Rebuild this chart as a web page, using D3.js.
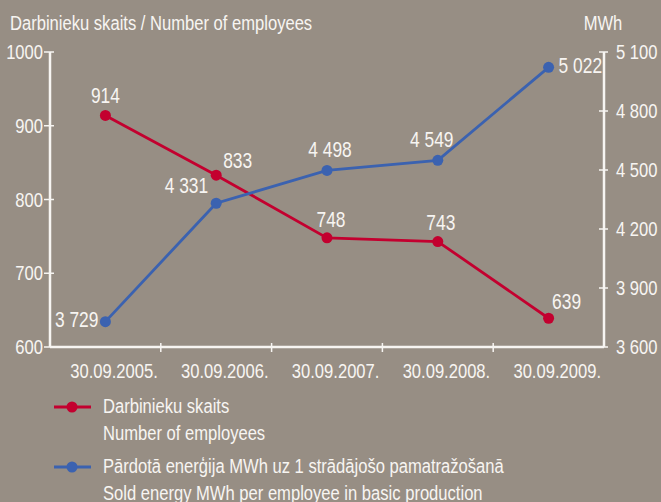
<!DOCTYPE html>
<html>
<head>
<meta charset="utf-8">
<script src="https://cdn.jsdelivr.net/npm/d3@7/dist/d3.min.js"></script>
<style>
  html, body { margin: 0; padding: 0; background: #978e84; }
  svg { display: block; }
  text { font-family: "Liberation Sans", Arial, sans-serif; fill: #f7f5f2; }
</style>
</head>
<body>
<svg id="chart" width="661" height="502"></svg>
<script>
// ---- data ----
const categories = ["30.09.2005.", "30.09.2006.", "30.09.2007.", "30.09.2008.", "30.09.2009."];
const employees = [914, 833, 748, 743, 639];
const energyPerEmployee = [3729, 4331, 4498, 4549, 5022];
const leftTicks = [600, 700, 800, 900, 1000];
const rightTicks = [3600, 3900, 4200, 4500, 4800, 5100];
const leftTitle = "Darbinieku skaits / Number of employees";
const rightTitle = "MWh";
const legendItems = [
  ["Darbinieku skaits", "Number of employees"],
  ["Pārdotā enerģija MWh uz 1 strādājošo pamatražošanā", "Sold energy MWh per employee in basic production"]
];

// label offsets (style only): [dx, dy, anchor]
const empLabelPos = [[0, -12, "middle"], [7, -7, "start"], [4, -11, "middle"], [3, -12, "middle"], [18, -9, "middle"]];
const enLabelPos = [[-7, 5, "end"], [-8, -10, "end"], [3, -13, "middle"], [-6, -13, "middle"], [10, 6, "start"]];

const RED = "#c3002f";
const BLUE = "#3b62b0";
const WHITE = "#f7f5f2";
const SX = 0.79; // horizontal condensing of the font

const svg = d3.select("#chart");
const fmt = d3.formatLocale({decimal: ",", thousands: " ", grouping: [3], currency: ["", ""]}).format(",d");

function txt(parent, x, y, str, size, anchor) {
  return parent.append("text")
    .attr("transform", `translate(${x},${y}) scale(${SX},1)`)
    .attr("font-size", size)
    .attr("text-anchor", anchor || "start")
    .text(str);
}

const plot = {left: 50, right: 604, top: 52, bottom: 347};

const x = d3.scaleBand().domain(categories).range([plot.left, plot.right]).padding(0);
const yL = d3.scaleLinear().domain([600, 1000]).range([plot.bottom, plot.top]);
const yR = d3.scaleLinear().domain([3600, 5100]).range([plot.bottom, plot.top]);
const cx = d => x(d) + x.bandwidth() / 2;

// titles
txt(svg, 10, 30, leftTitle, 21, "start");
txt(svg, 603, 30, rightTitle, 21, "middle");

// left axis
const gL = svg.append("g").attr("transform", `translate(${plot.left},0)`);
gL.append("line").attr("y1", plot.top).attr("y2", plot.bottom).attr("stroke", WHITE).attr("stroke-width", 2.5);
leftTicks.forEach(t => {
  gL.append("line").attr("x1", -6).attr("x2", 4).attr("y1", yL(t)).attr("y2", yL(t)).attr("stroke", WHITE).attr("stroke-width", 1.5);
  txt(gL, -7, yL(t) + 7, String(t), 21, "end");
});

// right axis
const gR = svg.append("g").attr("transform", `translate(${plot.right},0)`);
gR.append("line").attr("y1", plot.top).attr("y2", plot.bottom).attr("stroke", WHITE).attr("stroke-width", 2.5);
rightTicks.forEach(t => {
  gR.append("line").attr("x1", -5).attr("x2", 4).attr("y1", yR(t)).attr("y2", yR(t)).attr("stroke", WHITE).attr("stroke-width", 1.5);
  txt(gR, 12, yR(t) + 7, fmt(t), 21, "start");
});

// x axis
const gX = svg.append("g");
gX.append("line").attr("x1", plot.left).attr("x2", plot.right).attr("y1", plot.bottom).attr("y2", plot.bottom).attr("stroke", WHITE).attr("stroke-width", 2.5);
categories.forEach((c, i) => {
  const xe = x(c) + x.bandwidth();
  if (i < categories.length - 1) {
    gX.append("line").attr("x1", xe).attr("x2", xe).attr("y1", plot.bottom - 4).attr("y2", plot.bottom + 5).attr("stroke", WHITE).attr("stroke-width", 1.5);
  }
  txt(gX, xe - 3, 378, c, 21, "end");
});

// series
function drawSeries(values, yScale, color, labelPos) {
  const line = d3.line().x((d, i) => cx(categories[i])).y(d => yScale(d));
  svg.append("path").datum(values).attr("d", line).attr("fill", "none").attr("stroke", color).attr("stroke-width", 2.8);
  svg.append("g").selectAll("circle").data(values).join("circle")
    .attr("cx", (d, i) => cx(categories[i])).attr("cy", d => yScale(d)).attr("r", 5.5).attr("fill", color);
  const g = svg.append("g");
  values.forEach((d, i) => {
    txt(g, cx(categories[i]) + labelPos[i][0], yScale(d) + labelPos[i][1], fmt(d), 22, labelPos[i][2]);
  });
}
drawSeries(employees, yL, RED, empLabelPos);
drawSeries(energyPerEmployee, yR, BLUE, enLabelPos);

// legend
const legendY = [407, 467];
const legendColors = [RED, BLUE];
legendItems.forEach((lines, i) => {
  const g = svg.append("g").attr("transform", `translate(0,${legendY[i]})`);
  g.append("line").attr("x1", 54).attr("x2", 91).attr("y1", 0).attr("y2", 0).attr("stroke", legendColors[i]).attr("stroke-width", 2.8);
  g.append("circle").attr("cx", 72).attr("cy", 0).attr("r", 5.5).attr("fill", legendColors[i]);
  lines.forEach((t, j) => {
    txt(g, 103, 6 + j * 27, t, 21, "start");
  });
});
</script>
</body>
</html>
